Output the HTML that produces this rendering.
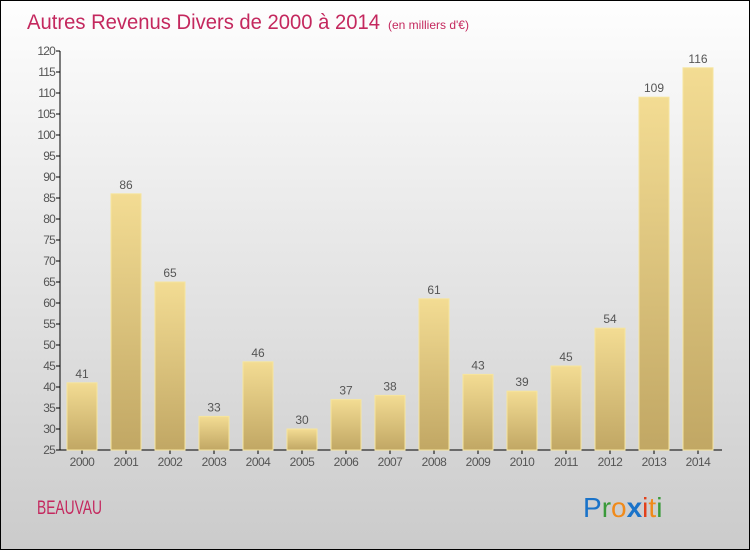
<!DOCTYPE html>
<html><head><meta charset="utf-8"><style>
html,body{margin:0;padding:0}
body{width:750px;height:550px;overflow:hidden;font-family:"Liberation Sans",sans-serif}
#wrap{position:relative;width:748px;height:548px;border:1px solid #000;background:linear-gradient(#fefefe,#cbcbcb)}
</style></head><body>
<div id="wrap">
<svg id="chart" width="748" height="548">
<defs><linearGradient id="bg" x1="0" y1="0" x2="0" y2="1"><stop offset="0" stop-color="#f3dc93"/><stop offset="1" stop-color="#c1a764"/></linearGradient></defs>
<text x="26" y="28" font-size="21" fill="#c4285e"><tspan textLength="353" lengthAdjust="spacingAndGlyphs">Autres Revenus Divers de 2000 à 2014</tspan><tspan font-size="12" dx="8">(en milliers d'€)</tspan></text>
<text x="36" y="513" font-size="19" fill="#c4285e" textLength="65" lengthAdjust="spacingAndGlyphs">BEAUVAU</text>
<text x="582" y="516" font-size="28"><tspan fill="#1a73c9">P</tspan><tspan fill="#3a9a3a">r</tspan><tspan fill="#f08a1a">o</tspan><tspan fill="#1a73c9" font-weight="bold">x</tspan><tspan fill="#e2401a">i</tspan><tspan fill="#f08a1a">t</tspan><tspan fill="#3a9a3a">i</tspan></text>
<g id="axes"></g><g id="bars"></g>
</svg></div>
<script>
const categories=["2000","2001","2002","2003","2004","2005","2006","2007","2008","2009","2010","2011","2012","2013","2014"];
const values=[41,86,65,33,46,30,37,38,61,43,39,45,54,109,116];
const yTicks=[25,30,35,40,45,50,55,60,65,70,75,80,85,90,95,100,105,110,115,120];
const NS="http://www.w3.org/2000/svg";
const y=v=>449-(v-25)*4.2;
const x=i=>81+44*i;
function mk(t,a,p){const e=document.createElementNS(NS,t);for(const k in a)e.setAttribute(k,a[k]);p.appendChild(e);return e;}
const ax=document.getElementById('axes'),bg=document.getElementById('bars');
let l=mk('line',{x1:59,y1:y(120),x2:59,y2:y(25),stroke:'#000'},ax);


l=mk('line',{x1:59,y1:y(25),x2:721,y2:y(25),stroke:'#000'},ax);


yTicks.forEach(v=>{
 mk('line',{x1:55,y1:y(v),x2:59,y2:y(v),stroke:'#000'},ax);
 const t=mk('text',{x:54,y:y(v)+4,'font-size':12,'text-anchor':'end',fill:'#555','letter-spacing':'-0.8'},ax);
 t.textContent=v;
 
 
});
categories.forEach((c,i)=>{
 mk('line',{x1:x(i),y1:y(25),x2:x(i),y2:y(25)+4,stroke:'#000'},ax);
 const t=mk('text',{x:x(i),y:y(25)+16,'font-size':12,'text-anchor':'middle',fill:'#555','letter-spacing':'-0.5'},ax);
 t.textContent=c;
 
 
 const r=mk('rect',{x:x(i)-15,y:y(values[i]),width:30,height:y(25)-y(values[i]),fill:'url(#bg)',stroke:'#f6e59e','stroke-width':1},bg);
 
 
 const vl=mk('text',{x:x(i),y:y(values[i])-5,'font-size':12,'text-anchor':'middle',fill:'#555'},bg);
 vl.textContent=values[i];
 
 
});
</script>
</body></html>
